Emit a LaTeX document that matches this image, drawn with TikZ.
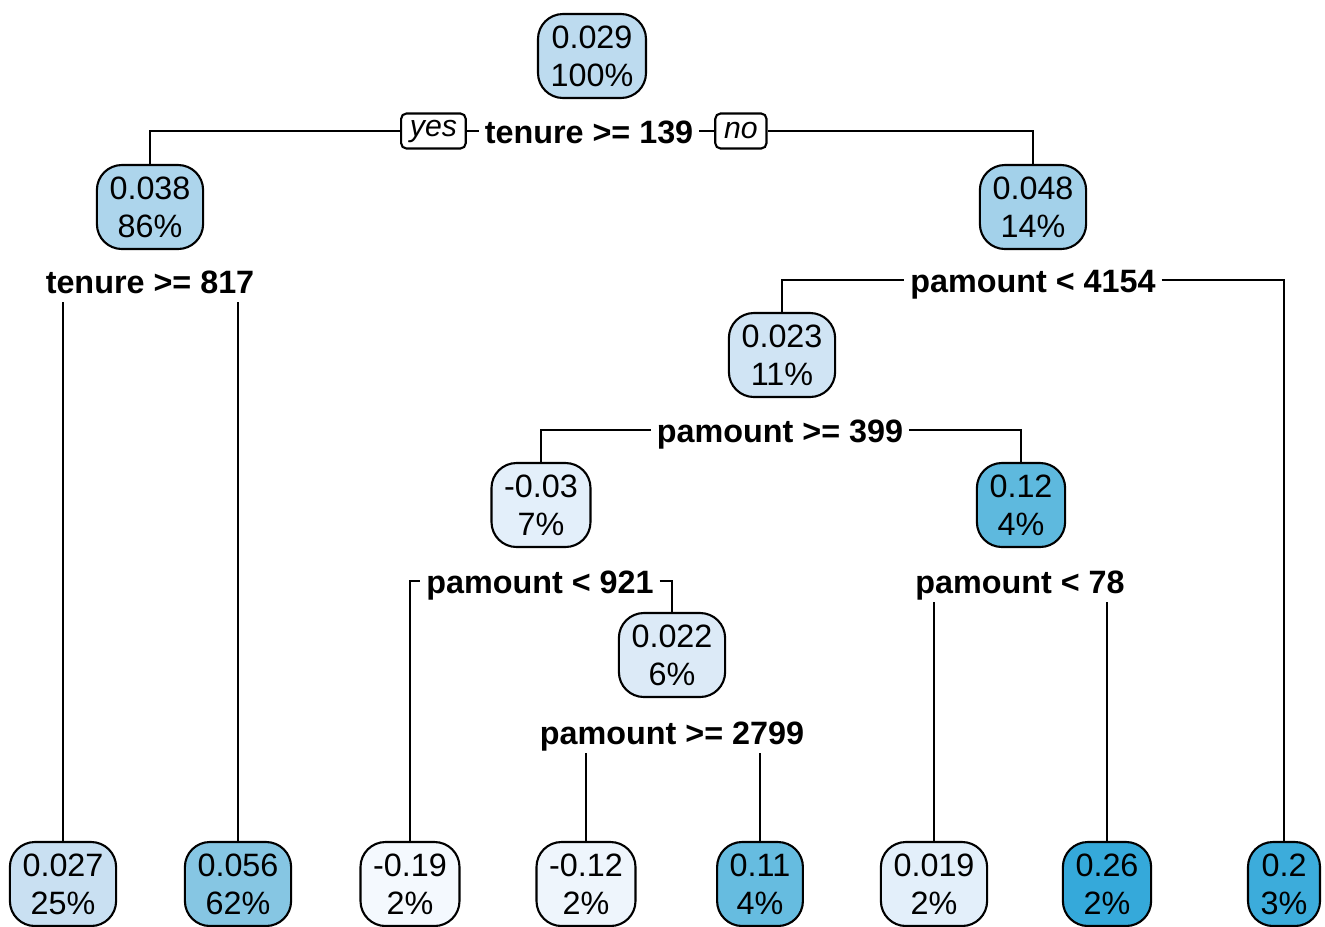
\documentclass[tikz,border=0pt]{standalone}
\usepackage{fontspec}
\setmainfont{Liberation Sans}
\usepackage{xcolor}
\usepackage{tikz}
\usetikzlibrary{positioning}

% fill shades, light = low fitted value, dark = high
\definecolor{bA}{HTML}{F4F9FE}
\definecolor{bB}{HTML}{EEF5FC}
\definecolor{bC}{HTML}{E3EFFA}
\definecolor{bD}{HTML}{DCEAF7}
\definecolor{bE}{HTML}{D0E4F4}
\definecolor{bF}{HTML}{C9E0F2}
\definecolor{bG}{HTML}{BDDBEF}
\definecolor{bH}{HTML}{ADD5EC}
\definecolor{bI}{HTML}{A3D1EA}
\definecolor{bJ}{HTML}{86C6E3}
\definecolor{bK}{HTML}{66BCE0}
\definecolor{bL}{HTML}{5EB9DE}
\definecolor{bM}{HTML}{3CACDB}
\definecolor{bN}{HTML}{35A9DA}

\tikzset{
  cell/.style={draw,line width=.6pt,rounded corners=.25cm,align=center,
    minimum height=.84cm,inner xsep=3.6pt,inner ysep=1pt,
    font=\fontsize{9.2}{10.8}\selectfont,fill=#1},
  rule/.style={font=\fontsize{9.2}{11}\bfseries\selectfont,inner xsep=1.5pt,inner ysep=2.2pt,
    text height=.72em,text depth=0pt},
  tag/.style={draw,line width=.6pt,rounded corners=1.5pt,inner xsep=2.5pt,inner ysep=1pt,
    minimum height=.35cm,font=\fontsize{8.6}{10}\itshape\selectfont},
  branch/.style={line width=.6pt}
}

\begin{document}
\begin{tikzpicture}[x=1cm,y=1cm]
      \useasboundingbox (0,0) rectangle (13.25,-9.26);
      % inner nodes
      \node[cell=bG] (root) at (5.92,-.56) {0.029\\100\%};
      \node[cell=bH] (n2) at (1.50,-2.07) {0.038\\86\%};
      \node[cell=bI] (n3) at (10.33,-2.07) {0.048\\14\%};
      \node[cell=bE] (n6) at (7.82,-3.55) {0.023\\11\%};
      \node[cell=bC] (n12) at (5.41,-5.05) {-0.03\\7\%};
      \node[cell=bL] (n13) at (10.21,-5.05) {0.12\\4\%};
      \node[cell=bD] (n25) at (6.72,-6.55) {0.022\\6\%};
      % leaves
      \node[cell=bF] (l4) at (.63,-8.84) {0.027\\25\%};
      \node[cell=bJ] (l5) at (2.38,-8.84) {0.056\\62\%};
      \node[cell=bA] (l24) at (4.10,-8.84) {-0.19\\2\%};
      \node[cell=bB] (l50) at (5.86,-8.84) {-0.12\\2\%};
      \node[cell=bK] (l51) at (7.60,-8.84) {0.11\\4\%};
      \node[cell=bC] (l26) at (9.34,-8.84) {0.019\\2\%};
      \node[cell=bN] (l27) at (11.07,-8.84) {0.26\\2\%};
      \node[cell=bM] (l7) at (12.84,-8.84) {0.2\\3\%};
      % split rules
      \node[rule] (s1) at (5.89,-1.31) {tenure >= 139};
      \node[tag,left=.12cm of s1] (yes) {yes};
      \node[tag,right=.15cm of s1] (no) {no};
      \node[rule] (s2) at (1.50,-2.81) {tenure >= 817};
      \node[rule] (s3) at (10.33,-2.80) {pamount < 4154};
      \node[rule] (s6) at (7.80,-4.30) {pamount >= 399};
      \node[rule] (s12) at (5.40,-5.81) {pamount < 921};
      \node[rule] (s13) at (10.20,-5.81) {pamount < 78};
      \node[rule] (s25) at (6.72,-7.32) {pamount >= 2799};
      % branches
      \draw[branch] (n2.north) |- (yes.west);
      \draw[branch] (yes.east) -- (s1.west);
      \draw[branch] (s1.east) -- (no.west);
      \draw[branch] (no.east) -| (n3.north);
      \draw[branch] (s2.south -| l4.north) -- (l4.north);
      \draw[branch] (s2.south -| l5.north) -- (l5.north);
      \draw[branch] (n6.north) |- (s3.west);
      \draw[branch] (s3.east) -| (l7.north);
      \draw[branch] (n12.north) |- (s6.west);
      \draw[branch] (s6.east) -| (n13.north);
      \draw[branch] (l24.north) |- (s12.west);
      \draw[branch] (s12.east) -| (n25.north);
      \draw[branch] (s25.south -| l50.north) -- (l50.north);
      \draw[branch] (s25.south -| l51.north) -- (l51.north);
      \draw[branch] (s13.south -| l26.north) -- (l26.north);
      \draw[branch] (s13.south -| l27.north) -- (l27.north);
    \end{tikzpicture}
\end{document}
